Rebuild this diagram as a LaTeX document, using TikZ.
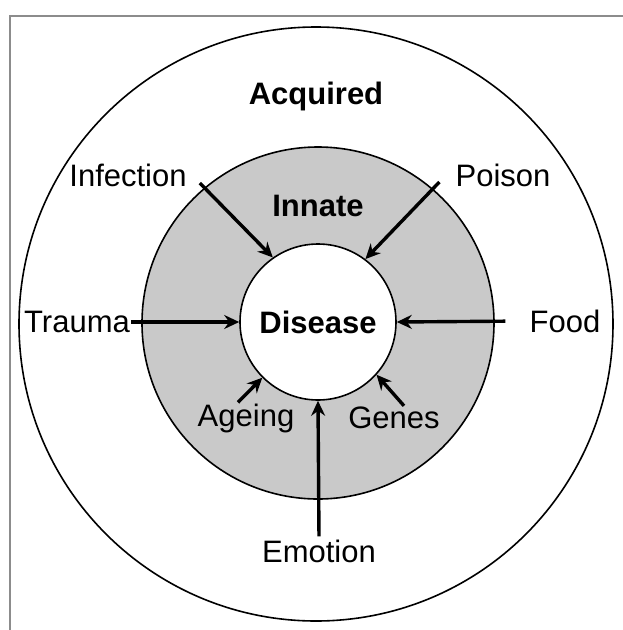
\documentclass[tikz,border=0pt]{standalone}
\usepackage{fontspec}
\setmainfont{Liberation Sans}
\usepackage{xcolor}
\usetikzlibrary{arrows.meta}
\definecolor{ringgray}{gray}{0.79}
\definecolor{framegray}{gray}{0.55}

\begin{document}
\begin{tikzpicture}[x=1pt,y=-1pt,
    ring/.style={circle,draw,line width=1.6pt,inner sep=0pt},
    lbl/.style={font=\fontsize{31}{36}\selectfont,inner sep=1pt},
    head/.style={font=\fontsize{31}{36}\selectfont\bfseries,inner sep=1pt},
    arr/.style={-{Stealth[length=15pt,width=14pt,inset=5pt]},line width=3.4pt}]
		\useasboundingbox (0,0) rectangle (623,630);
		\draw [framegray,line width=1.5pt] (10,630) -- (10,16) -- (623,16);
		\node[ring,minimum size=594pt] (acq) at (316,324) {};
		\node[ring,fill=ringgray,minimum size=352pt] (inn) at (318,323) {};
		\node[ring,fill=white,minimum size=156pt,head] (dis) at (318,322) {Disease};
		\node[head] (acqtxt) at (316,96) {Acquired};
		\node[head] (inntxt) at (318,206) {Innate};
		\node[lbl] (inf) at (128,175) {Infection};
		\node[lbl] (poi) at (503,175) {Poison};
		\node[lbl] (tra) at (77,322) {Trauma};
		\node[lbl] (foo) at (565,321) {Food};
		\node[lbl] (age) at (246,418) {Ageing};
		\node[lbl] (gen) at (394,418) {Genes};
		\node[lbl] (emo) at (319,551) {Emotion};
        \draw [arr] ([xshift=12pt,yshift=-8pt]inf.east) -- (dis.125);
		\draw [arr] ([xshift=-15pt,yshift=-7pt]poi.west) -- (dis.53);
		\draw [arr] (tra.east) -- (dis.west);
		\draw [arr,shorten <=23pt] (foo.west) -- (dis.east);
		\draw [arr] ([xshift=-8pt]age.north) -- (dis.225);
		\draw [arr] ([xshift=10pt]gen.north) -- (dis.-42);
		\draw [arr,shorten <=2pt] (emo.north) -- (dis.south);
    \end{tikzpicture}
\end{document}
